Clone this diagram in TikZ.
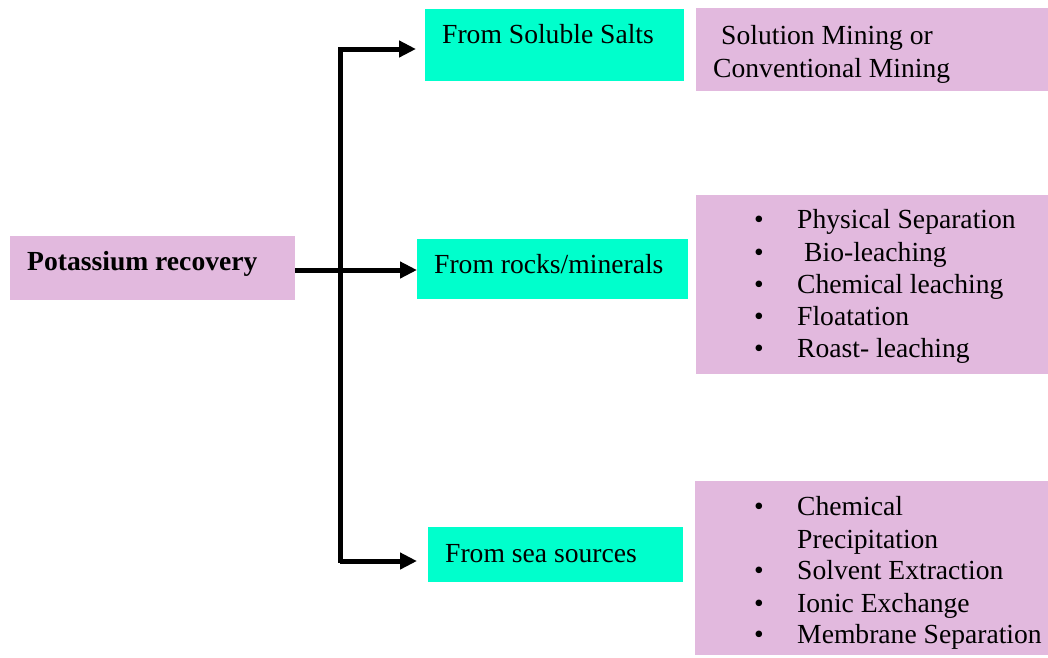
\documentclass[tikz,border=0pt]{standalone}
\usepackage{fontspec}
\setmainfont{Liberation Serif}
\usetikzlibrary{arrows.meta}
\definecolor{boxcyan}{HTML}{00FFCC}
\definecolor{boxpink}{HTML}{E2B9DE}
\tikzset{
  cyanbox/.style={fill=boxcyan, draw=none, anchor=north west, inner sep=0pt},
  pinkbox/.style={fill=boxpink, draw=none, anchor=north west, inner sep=0pt},
  txt/.style={inner sep=0pt, font=\fontsize{27.6}{32.3}\selectfont, text=black},
  conn/.style={line width=5pt, line join=miter, draw=black},
  arr/.style={conn, -{Triangle[length=17pt, width=16pt]}}
}
\begin{document}
\begin{tikzpicture}[x=1pt, y=-1pt]
\useasboundingbox (0,0) rectangle (1048,657);
% boxes
\node[pinkbox, minimum width=285pt, minimum height=64pt] (root) at (10,236) {};
\node[cyanbox, minimum width=259pt, minimum height=72pt] (soluble) at (425,9) {};
\node[cyanbox, minimum width=271pt, minimum height=60pt] (rocks) at (417,239) {};
\node[cyanbox, minimum width=255pt, minimum height=55pt] (sea) at (428,527) {};
\node[pinkbox, minimum width=352pt, minimum height=83pt] (mining) at (696,8) {};
\node[pinkbox, minimum width=352pt, minimum height=179pt] (rocklist) at (696,195) {};
\node[pinkbox, minimum width=353pt, minimum height=174pt] (sealist) at (695,481) {};
% texts
\node[txt, anchor=base west] (roottxt) at (27,270) {\bfseries Potassium recovery};
\node[txt, anchor=base west] (soltxt) at (442,43) {From Soluble Salts};
\node[txt, anchor=base west] (rocktxt) at (434,273) {From rocks/minerals};
\node[txt, anchor=base west] (seatxt) at (445,562) {From sea sources};
\node[txt, anchor=base west] (min1) at (721,44) {Solution Mining or};
\node[txt, anchor=base west] (min2) at (713,77) {Conventional Mining};
% rock list
\node[txt, anchor=base] (rb1) at (759,228) {•};
\node[txt, anchor=base] (rb2) at (759,261) {•};
\node[txt, anchor=base] (rb3) at (759,293) {•};
\node[txt, anchor=base] (rb4) at (759,325) {•};
\node[txt, anchor=base] (rb5) at (759,357) {•};
\node[txt, anchor=base west] (rl1) at (797,228) {Physical Separation};
\node[txt, anchor=base west] (rl2) at (804,261) {Bio-leaching};
\node[txt, anchor=base west] (rl3) at (797,293) {Chemical leaching};
\node[txt, anchor=base west] (rl4) at (797,325) {Floatation};
\node[txt, anchor=base west] (rl5) at (797,357) {Roast- leaching};
% sea list
\node[txt, anchor=base] (sb1) at (759,515) {•};
\node[txt, anchor=base] (sb2) at (759,579) {•};
\node[txt, anchor=base] (sb3) at (759,612) {•};
\node[txt, anchor=base] (sb4) at (759,643) {•};
\node[txt, anchor=base west] (sl1) at (797,515) {Chemical};
\node[txt, anchor=base west] (sl1b) at (797,548) {Precipitation};
\node[txt, anchor=base west] (sl2) at (797,579) {Solvent Extraction};
\node[txt, anchor=base west] (sl3) at (797,612) {Ionic Exchange};
\node[txt, anchor=base west] (sl4) at (797,643) {Membrane Separation};
% connectors
\coordinate (jt) at (340,49);
\coordinate (jb) at (340,561);
\draw[conn] (340,47) -- (340,563);
\draw[arr, shorten >=9pt] (jt) -- (soluble.west |- jt);
\draw[arr] (root.east |- 0,270) -- (rocks.west |- 0,270);
\draw[arr, shorten >=11pt] (jb) -- (sea.west |- jb);
\end{tikzpicture}
\end{document}
